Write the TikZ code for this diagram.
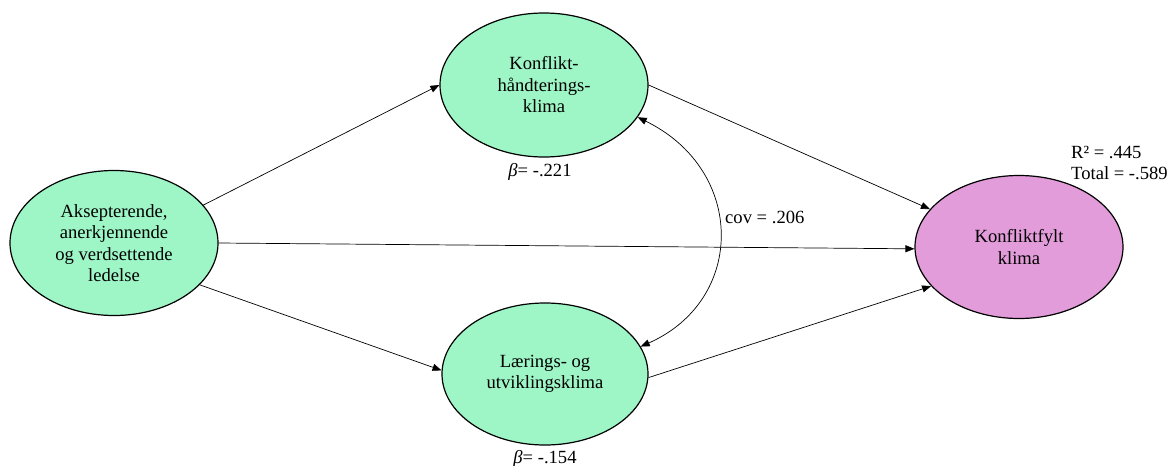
\documentclass[tikz,border=0pt]{standalone}
\usepackage{fontspec}
\setmainfont{Liberation Serif}
\usetikzlibrary{shapes.geometric,arrows.meta}
\definecolor{mint}{RGB}{158,245,198}
\definecolor{orchid}{RGB}{227,156,218}
\begin{document}
\begin{tikzpicture}[x=1pt,y=-1pt, font=\fontsize{18.6}{21.5}\selectfont,
  latent/.style={ellipse, draw, line width=1.2pt, inner sep=0pt, minimum width=208pt, minimum height=144pt, align=center, fill=mint},
  pathline/.style={line width=0.7pt, -{Triangle[length=9pt,width=7pt]}},
  covline/.style={line width=0.7pt, {Triangle[length=9pt,width=7pt]}-{Triangle[length=9pt,width=7pt]}}]
\useasboundingbox (0,0) rectangle (1171,466);
\node[latent, minimum height=145pt] (akz) at (114,243) {Aksepterende,\\anerkjennende\\og verdsettende\\ledelse};
\node[latent] (kh) at (544,85) {Konflikt-\\håndterings-\\klima};
\node[latent, minimum width=206pt, minimum height=142pt] (lu) at (545,374) {Lærings- og\\utviklingsklima};
\node[latent, fill=orchid, minimum height=143pt] (kf) at (1019,247) {Konfliktfylt\\klima};
\node (b1) at (540,172) {\textit{β}= -.221};
\node (b2) at (545,459) {\textit{β}= -.154};
\node[anchor=west, align=left, inner sep=0pt] (r2) at (1071,163) {R² = .445\\Total = -.589};
\node[anchor=west, inner sep=0pt] (cov) at (725,217) {cov = .206};
\draw[pathline] (akz.23) -- (kh.180);
\draw[pathline] (akz.-26) -- (lu.178);
\draw[pathline] (akz.0) -- (kf.181);
\draw[pathline] (kh.0) -- (kf.157);
\draw[pathline] (lu.-2) -- (kf.204);
\draw[covline] (kh.-19) .. controls (746,170) and (746,300) .. (lu.16);
\end{tikzpicture}
\end{document}
